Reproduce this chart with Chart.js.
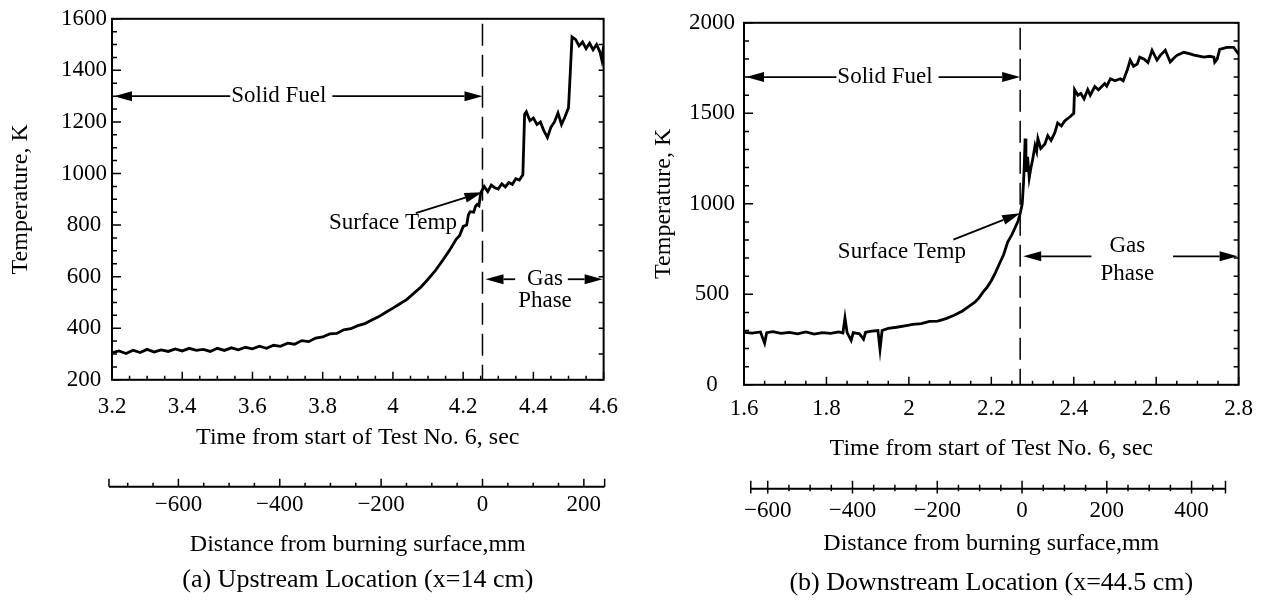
<!DOCTYPE html>
<html>
<head>
<meta charset="utf-8">
<title>Temperature profiles - Test No. 6</title>
<script src="https://cdn.jsdelivr.net/npm/chart.js@4.4.1/dist/chart.umd.min.js"></script>
<style>
  html, body { margin: 0; padding: 0; background: #fff; }
  .panel { position: absolute; top: 0; width: 631px; height: 600px; }
  #upPanel { left: 0; }
  #downPanel { left: 632px; }
</style>
</head>
<body>
<div class="panel" id="upPanel"><canvas id="upChart" width="631" height="600"></canvas></div>
<div class="panel" id="downPanel"><canvas id="downChart" width="631" height="600"></canvas></div>
<script>
// (a) upstream thermocouple, x = 14 cm
const upstreamTime = [
  3.20, 3.22, 3.24, 3.26, 3.28, 3.30, 3.32, 3.34, 3.36, 3.38,
  3.40, 3.42, 3.44, 3.46, 3.48, 3.50, 3.52, 3.54, 3.56, 3.58,
  3.60, 3.62, 3.64, 3.66, 3.68, 3.70, 3.72, 3.74, 3.76, 3.78,
  3.80, 3.82, 3.84, 3.86, 3.88, 3.90, 3.92, 3.94, 3.96, 3.98,
  4.00, 4.02, 4.04, 4.06, 4.08, 4.10, 4.12, 4.14, 4.16, 4.18,
  4.19, 4.20, 4.21, 4.215, 4.22, 4.23, 4.235, 4.24, 4.245, 4.25,
  4.26, 4.27, 4.28, 4.29, 4.30, 4.31, 4.32, 4.33, 4.34, 4.35,
  4.36, 4.37, 4.375, 4.38, 4.39, 4.40, 4.41, 4.42, 4.43, 4.44,
  4.45, 4.46, 4.47, 4.48, 4.49, 4.50, 4.505, 4.51, 4.52, 4.53,
  4.54, 4.55, 4.56, 4.57, 4.58, 4.59, 4.595, 4.60
];
const upstreamTemp = [
  305, 312, 302, 315, 306, 318, 308, 316, 310, 320,
  312, 322, 314, 318, 310, 322, 314, 324, 316, 326,
  320, 330, 322, 334, 330, 342, 338, 352, 348, 362,
  366, 378, 380, 394, 398, 410, 418, 432, 445, 462,
  478, 495, 512, 536, 560, 590, 622, 660, 700, 745,
  760, 795, 800, 840, 852, 850, 872, 880, 875, 925,
  950, 930, 955, 945, 940, 960, 948, 965, 958, 980,
  975, 995, 1230, 1240, 1205, 1215, 1190, 1200, 1165, 1140,
  1180, 1200, 1235, 1190, 1220, 1255, 1390, 1530, 1520, 1495,
  1510, 1485, 1505, 1480, 1500, 1470, 1440, 1495
];
const upstreamDistTicks = [-600, -400, -200, 0, 200];

// (b) downstream thermocouple, x = 44.5 cm
const downstreamTime = [
  1.60, 1.62, 1.64, 1.65, 1.655, 1.67, 1.69, 1.71, 1.73, 1.75,
  1.77, 1.79, 1.81, 1.83, 1.84, 1.845, 1.85, 1.86, 1.865, 1.88,
  1.89, 1.895, 1.91, 1.925, 1.93, 1.935, 1.95, 1.97, 1.99, 2.01,
  2.03, 2.05, 2.07, 2.09, 2.11, 2.13, 2.15, 2.16, 2.17, 2.18,
  2.19, 2.20, 2.21, 2.22, 2.23, 2.24, 2.25, 2.26, 2.265, 2.27,
  2.275, 2.278, 2.28, 2.282, 2.284, 2.288, 2.292, 2.296, 2.30, 2.306,
  2.31, 2.313, 2.32, 2.33, 2.337, 2.345, 2.354, 2.361, 2.37, 2.378,
  2.385, 2.393, 2.40, 2.402, 2.41, 2.417, 2.425, 2.434, 2.44, 2.451,
  2.46, 2.475, 2.48, 2.489, 2.50, 2.513, 2.52, 2.53, 2.537, 2.545,
  2.554, 2.56, 2.571, 2.58, 2.59, 2.602, 2.61, 2.622, 2.634, 2.645,
  2.651, 2.667, 2.68, 2.692, 2.716, 2.73, 2.74, 2.742, 2.748, 2.754,
  2.771, 2.788, 2.80
];
const downstreamTemp = [
  290, 286, 292, 230, 288, 294, 284, 290, 282, 292,
  280, 288, 284, 292, 286, 370, 290, 245, 288, 282,
  252, 290, 296, 300, 196, 300, 312, 318, 326, 334,
  338, 350, 352, 366, 384, 408, 440, 456, 480, 512,
  540, 575, 620, 670, 720, 790, 830, 880, 905, 945,
  1000, 1110, 1214, 1360, 1176, 1260, 1144, 1198, 1240, 1322,
  1290, 1360, 1306, 1330, 1377, 1350, 1393, 1447, 1430, 1458,
  1470, 1485, 1500, 1631, 1600, 1610, 1580, 1631, 1600, 1648,
  1630, 1664, 1650, 1691, 1680, 1691, 1680, 1740, 1794, 1760,
  1772, 1810, 1799, 1780, 1848, 1794, 1820, 1848, 1783, 1810,
  1821, 1837, 1830, 1821, 1810, 1815, 1810, 1783, 1800, 1853,
  1864, 1864, 1826
];
const downstreamDistTicks = [-600, -400, -200, 0, 200, 400];

const SERIF = "'Liberation Serif', 'Times New Roman', serif";
Chart.defaults.font.family = SERIF;
Chart.defaults.color = "#000";

function stepValues(min, max, step) {
  const out = [];
  for (let i = Math.ceil(min / step - 1e-9); i * step <= max + 1e-9; i++) {
    out.push(+(i * step).toFixed(6));
  }
  return out;
}

function isMultiple(v, step) {
  const r = v / step;
  return Math.abs(r - Math.round(r)) < 1e-6;
}

function arrow(ctx, x1, y1, x2, y2) {
  const ang = Math.atan2(y2 - y1, x2 - x1);
  const len = 18, half = 5;
  const bx = x2 - len * Math.cos(ang), by = y2 - len * Math.sin(ang);
  ctx.beginPath();
  ctx.moveTo(x1, y1);
  ctx.lineTo(bx, by);
  ctx.stroke();
  ctx.beginPath();
  ctx.moveTo(x2, y2);
  ctx.lineTo(bx - half * Math.sin(ang), by + half * Math.cos(ang));
  ctx.lineTo(bx + half * Math.sin(ang), by - half * Math.cos(ang));
  ctx.closePath();
  ctx.fill();
}

// frame, inward ticks, distance axis, dashed surface line and the labels
const figurePlugin = {
  id: "figure",
  afterDraw(chart, args, o) {
    const { ctx, chartArea: a } = chart;
    const xs = chart.scales.x, ys = chart.scales.y, ds = chart.scales.x2;
    ctx.save();
    ctx.strokeStyle = "#000";
    ctx.fillStyle = "#000";

    ctx.lineWidth = 2;
    ctx.strokeRect(a.left, a.top, a.width, a.height);

    ctx.lineWidth = 1.5;
    ctx.beginPath();
    stepValues(xs.min, xs.max, o.xMinor).forEach((v) => {
      const px = xs.getPixelForValue(v);
      const len = isMultiple(v, o.xMajor) ? 8 : 4;
      ctx.moveTo(px, a.bottom);
      ctx.lineTo(px, a.bottom - len);
    });
    stepValues(ys.min, ys.max, o.yMinor).forEach((v) => {
      const py = ys.getPixelForValue(v);
      const len = isMultiple(v, o.yMajor) ? 9 : 5;
      ctx.moveTo(a.left, py);
      ctx.lineTo(a.left + len, py);
    });
    stepValues(ys.min, ys.max, o.rightMinor).forEach((v) => {
      const py = ys.getPixelForValue(v);
      ctx.moveTo(a.right, py);
      ctx.lineTo(a.right - 5, py);
    });
    ctx.stroke();

    // distance axis
    const base = ds.top;
    ctx.lineWidth = 2;
    ctx.beginPath();
    ctx.moveTo(ds.getPixelForValue(o.distFrom), base);
    ctx.lineTo(ds.getPixelForValue(o.distTo), base);
    ctx.stroke();
    ctx.lineWidth = 1.5;
    ctx.beginPath();
    const marks = [o.distFrom].concat(stepValues(o.distFrom, o.distTo, 50), [o.distTo]);
    marks.forEach((v) => {
      const px = ds.getPixelForValue(v);
      const len = isMultiple(v, 200) || v === o.distFrom || v === o.distTo ? 8 : 4;
      ctx.moveTo(px, base - len);
      ctx.lineTo(px, o.crossTicks ? base + len * 0.6 : base);
    });
    ctx.stroke();

    // burning surface
    const dx = xs.getPixelForValue(o.dashAt);
    ctx.setLineDash([22, 9]);
    ctx.beginPath();
    ctx.moveTo(dx, a.top + 5);
    ctx.lineTo(dx, a.bottom);
    ctx.stroke();
    ctx.setLineDash([]);

    ctx.font = "23px " + SERIF;
    ctx.textAlign = "center";
    ctx.textBaseline = "middle";
    ctx.lineWidth = 1.8;
    const P = (t, T) => [xs.getPixelForValue(t), ys.getPixelForValue(T)];

    const s = o.solid;
    const [sx, sy] = P(s.at, s.level);
    const w = ctx.measureText("Solid Fuel").width;
    ctx.fillText("Solid Fuel", sx, sy);
    arrow(ctx, sx - w / 2 - 1, sy, a.left + 2, sy);
    arrow(ctx, sx + w / 2 + 6, sy, dx, sy);

    const f = o.surface;
    ctx.fillText("Surface Temp", ...P(f.at, f.level));
    const [t1, u1] = P(f.tail[0], f.tail[1]);
    const [t2, u2] = P(f.tip[0], f.tip[1]);
    arrow(ctx, t1, u1, t2, u2);

    const g = o.gas;
    const gx = xs.getPixelForValue(g.at);
    const gy = ys.getPixelForValue(g.arrowLevel);
    ctx.fillText("Gas", gx, ys.getPixelForValue(g.level));
    ctx.fillText("Phase", gx, ys.getPixelForValue(g.phaseLevel));
    arrow(ctx, xs.getPixelForValue(g.tails[0]), gy, dx + 3, gy);
    arrow(ctx, xs.getPixelForValue(g.tails[1]), gy, a.right - 1, gy);

    ctx.restore();
  }
};

function buildChart(id, spec) {
  const points = spec.time.map((t, i) => ({ x: t, y: spec.temp[i] }));
  return new Chart(document.getElementById(id), {
    type: "line",
    data: {
      datasets: [{
        data: points,
        borderColor: "#000",
        borderWidth: 2.8,
        pointRadius: 0,
        tension: 0,
        fill: false
      }]
    },
    options: {
      responsive: false,
      animation: false,
      events: [],
      layout: { padding: spec.pad },
      plugins: {
        legend: { display: false },
        tooltip: { enabled: false },
        title: {
          display: true,
          fullSize: false,
          position: "bottom",
          text: spec.caption,
          color: "#000",
          font: { size: 26, weight: "normal" },
          padding: spec.captionPad
        },
        figure: spec.figure
      },
      scales: {
        x: {
          type: "linear",
          min: spec.xMin,
          max: spec.xMax,
          offset: false,
          grid: { display: false, drawTicks: false },
          border: { display: false },
          ticks: {
            stepSize: 0.2,
            autoSkip: false,
            maxRotation: 0,
            padding: spec.xTickPad,
            font: { size: 23 },
            callback: (v) => String(+v.toFixed(1))
          },
          title: {
            display: true,
            text: "Time from start of Test No. 6, sec",
            font: { size: 24 },
            padding: { top: 0, bottom: spec.xTitlePad }
          },
          afterFit: (s) => { s.height = spec.xHeight; }
        },
        x2: {
          type: "linear",
          position: "bottom",
          weight: 1,
          min: spec.distMin,
          max: spec.distMax,
          grid: { display: false, drawTicks: false },
          border: { display: false },
          afterBuildTicks: (s) => { s.ticks = spec.distTicks.map((v) => ({ value: v })); },
          ticks: {
            autoSkip: false,
            maxRotation: 0,
            padding: spec.distTickPad,
            font: { size: 23 },
            callback: (v) => (v < 0 ? "\u2212" + Math.abs(v) : String(v))
          },
          title: {
            display: true,
            text: "Distance from burning surface,mm",
            font: { size: 24 },
            padding: { top: 0, bottom: spec.distTitlePad }
          },
          afterFit: (s) => { s.height = spec.distHeight; }
        },
        y: {
          type: "linear",
          min: spec.yMin,
          max: spec.yMax,
          grid: { display: false, drawTicks: false },
          border: { display: false },
          ticks: {
            stepSize: spec.yStep,
            crossAlign: "center",
            padding: spec.yTickPad,
            font: { size: 23 },
            callback: (v) => String(v)
          },
          title: {
            display: true,
            text: "Temperature, K",
            font: { size: 24 },
            padding: { top: spec.yTitlePad, bottom: 0 }
          },
          afterFit: (s) => { s.width = 112; }
        }
      }
    },
    plugins: [figurePlugin]
  });
}

buildChart("upChart", {
  time: upstreamTime,
  temp: upstreamTemp,
  distTicks: upstreamDistTicks,
  caption: "(a) Upstream Location (x=14 cm)",
  pad: { top: 14, right: 24, left: 0, bottom: 0 },
  captionPad: { top: 0, bottom: 4 },
  xMin: 3.2, xMax: 4.6, yMin: 200, yMax: 1600, yStep: 200,
  distMin: -731, distMax: 239,
  xHeight: 107, xTickPad: 13, xTitlePad: 35,
  distHeight: 78, distTickPad: 4, distTitlePad: 6,
  yTickPad: 5, yTitlePad: 6,
  figure: {
    xMinor: 0.05, xMajor: 0.2, yMinor: 50, yMajor: 200, rightMinor: 100,
    distFrom: -737, distTo: 241, crossTicks: false,
    dashAt: 4.255,
    solid: { at: 3.675, level: 1300 },
    surface: { at: 4.0, level: 808, tail: [4.065, 846], tip: [4.255, 927] },
    gas: { at: 4.433, level: 590, arrowLevel: 590, phaseLevel: 505, tails: [4.348, 4.498] }
  }
});

buildChart("downChart", {
  time: downstreamTime,
  temp: downstreamTemp,
  distTicks: downstreamDistTicks,
  caption: "(b) Downstream Location (x=44.5 cm)",
  pad: { top: 15, right: 21, left: 0, bottom: 0 },
  captionPad: { top: 2, bottom: 1 },
  xMin: 1.6, xMax: 2.8, yMin: 0, yMax: 2000, yStep: 500,
  distMin: -656, distMax: 511,
  xHeight: 104, xTickPad: 10, xTitlePad: 26,
  distHeight: 77, distTickPad: 8, distTitlePad: 8,
  yTickPad: 9, yTitlePad: 17,
  figure: {
    xMinor: 0.05, xMajor: 0.2, yMinor: 100, yMajor: 500, rightMinor: 100,
    distFrom: -640, distTo: 480, crossTicks: true,
    dashAt: 2.27,
    solid: { at: 1.942, level: 1700 },
    surface: { at: 1.983, level: 732, tail: [2.108, 802], tip: [2.27, 948] },
    gas: { at: 2.53, level: 765, arrowLevel: 710, phaseLevel: 612, tails: [2.443, 2.641] }
  }
});
</script>
</body>
</html>
